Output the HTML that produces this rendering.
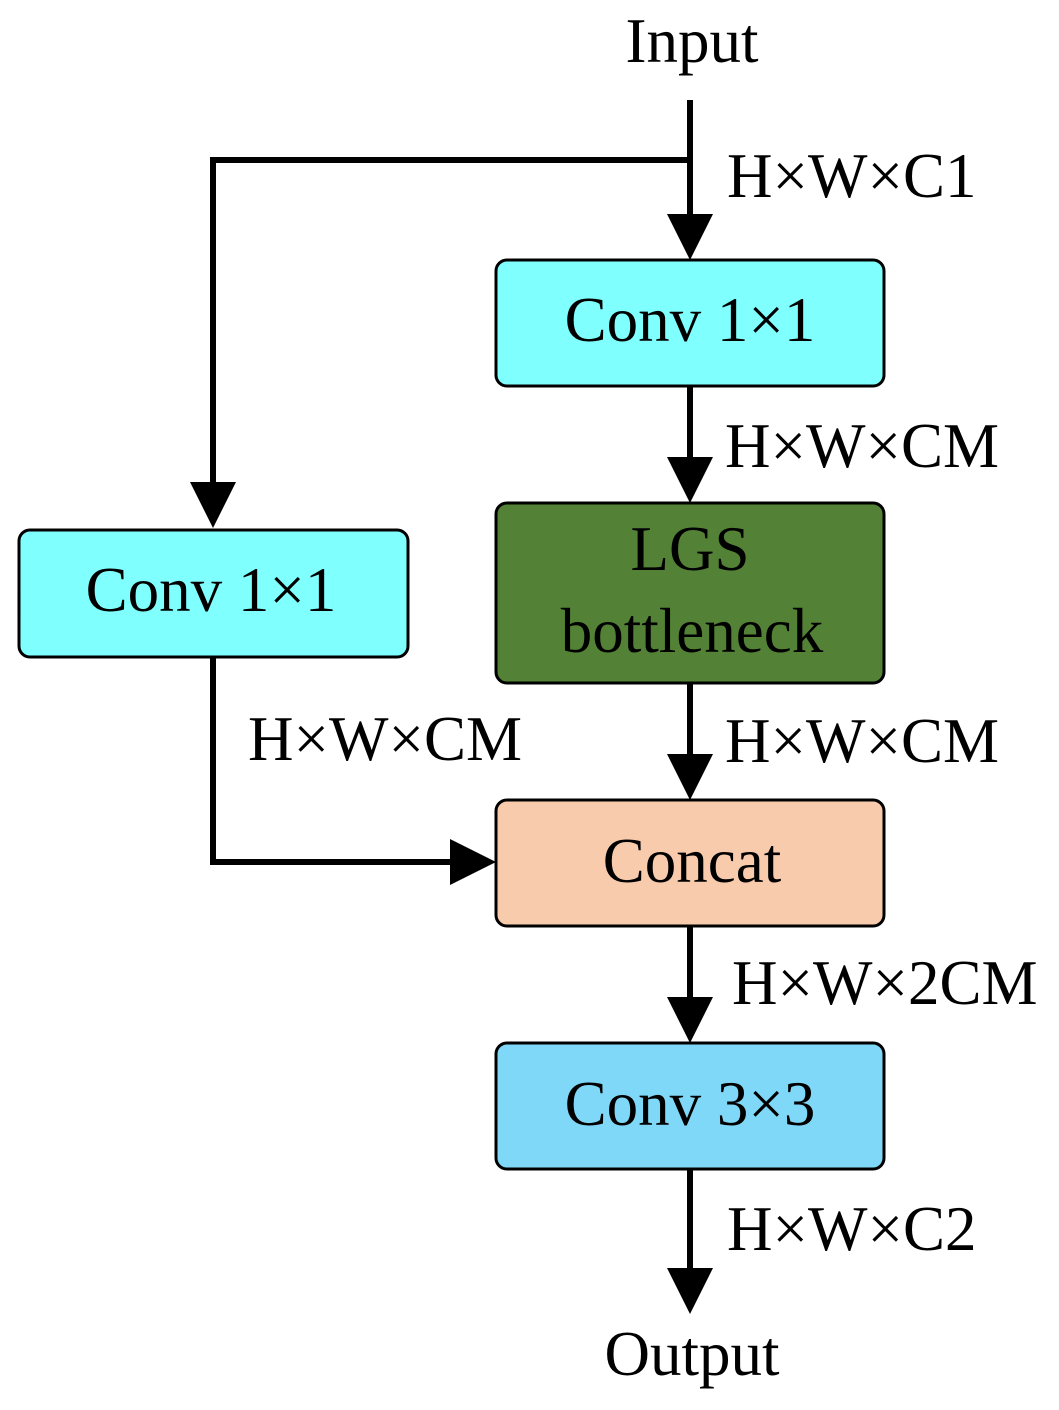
<!DOCTYPE html>
<html><head><style>html,body{margin:0;padding:0;background:#fff}</style></head><body>
<svg width="1059" height="1405" viewBox="0 0 1059 1405" xmlns="http://www.w3.org/2000/svg" font-family="'Liberation Serif', serif" font-size="63">
<g stroke="#000" stroke-width="6" fill="none">
<line x1="690" y1="100" x2="690" y2="220"/>
<polyline points="690,160 213,160 213,490"/>
<line x1="690" y1="386" x2="690" y2="462"/>
<line x1="690" y1="683" x2="690" y2="760"/>
<polyline points="213,657 213,862 455,862"/>
<line x1="690" y1="926" x2="690" y2="1002"/>
<line x1="690" y1="1169" x2="690" y2="1272"/>
</g>
<g fill="#000">
<polygon points="667,214 713,214 690,260"/>
<polygon points="190,482 236,482 213,528"/>
<polygon points="667,457 713,457 690,503"/>
<polygon points="667,754 713,754 690,800"/>
<polygon points="450,839 450,885 496,862"/>
<polygon points="667,997 713,997 690,1043"/>
<polygon points="667,1268 713,1268 690,1314"/>
</g>
<g stroke="#000" stroke-width="3">
<rect x="496" y="260" width="388" height="126" rx="11" fill="#80ffff"/>
<rect x="496" y="503" width="388" height="180" rx="11" fill="#538135"/>
<rect x="19" y="530" width="389" height="127" rx="11" fill="#80ffff"/>
<rect x="496" y="800" width="388" height="126" rx="11" fill="#f8cbad"/>
<rect x="496" y="1043" width="388" height="126" rx="11" fill="#80d8f8"/>
</g>
<g fill="#000" text-anchor="middle">
<text x="692" y="62">Input</text>
<text x="690" y="341">Conv 1×1</text>
<text x="690" y="570">LGS</text>
<text x="692" y="652">bottleneck</text>
<text x="211" y="611">Conv 1×1</text>
<text x="692" y="882">Concat</text>
<text x="690" y="1125">Conv 3×3</text>
<text x="692" y="1375">Output</text>
</g>
<g fill="#000">
<text x="727" y="197">H×W×C1</text>
<text x="725" y="467">H×W×CM</text>
<text x="248" y="760">H×W×CM</text>
<text x="725" y="762">H×W×CM</text>
<text x="732" y="1004">H×W×2CM</text>
<text x="727" y="1250">H×W×C2</text>
</g>
</svg>
</body></html>
